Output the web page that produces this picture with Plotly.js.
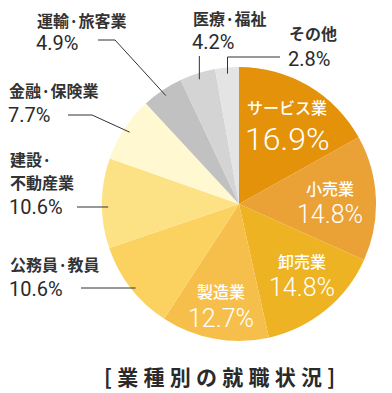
<!DOCTYPE html>
<html><head><meta charset="utf-8">
<script src="https://cdn.plot.ly/plotly-3.0.1.min.js"></script>
<style>html,body{margin:0;padding:0;background:#fff;}#chart{width:392px;height:393px;}</style>
</head><body><div id="chart"></div>
<script>
// ---- data ----
const categories = ['サービス業','小売業','卸売業','製造業','公務員·教員','建設·不動産業','金融·保険業','運輸·旅客業','医療·福祉','その他'];
const shares = [16.9, 14.8, 14.8, 12.7, 10.6, 10.6, 7.7, 4.9, 4.2, 2.8];
const displayNames = ['サービス業','小売業','卸売業','製造業','公務員·教員','建設·|不動産業','金融·保険業','運輸·旅客業','医療·福祉','その他'];
const sliceColors = ['#E3920A','#EAA135','#EEB322','#F6BF4B','#FBD15F','#FDE285','#FFF8D0','#C0C1C0','#D4D4D4','#E4E4E4'];
const chartTitle = '[業種別の就職状況]';

// ---- layout helpers (pixel -> paper) ----
const W = 392, H = 393;
const CX = 239, CY = 204, R = 137;
const px = x => x / W;
const py = y => 1 - y / H;

// inside labels: [index, x, nameY, pctY, pctSize]
const insideLabels = [
  [0, 287, 107, 139, 32],
  [1, 330, 188, 214, 25],
  [2, 302, 261, 287, 25],
  [3, 221, 291, 318, 25]
];
// outside labels: [index, x, nameY, pctY, lineStart, elbow]
const outsideLabels = [
  [7, 36, 20, 43, [98, 40], [115, 40]],
  [8, 192, 18, 42, null, null],
  [9, 288, 33, 59, [280, 57], null],
  [6, 8, 90, 115, [68, 115], [92, 115]],
  [5, 9, 159, 207, [77, 207], null],
  [4, 9, 264, 289, [81, 288], null]
];
const lineGap = 23;

// mid angle of each slice (clockwise from 12 o'clock)
const total = shares.reduce((a, b) => a + b, 0);
const mids = [];
let acc = 0;
shares.forEach(v => { mids.push((acc + v / 2) / total * 2 * Math.PI); acc += v; });
const edgePoint = (i, f) => [CX + Math.sin(mids[i]) * R * f, CY - Math.cos(mids[i]) * R * f];

const annotations = [];
const shapes = [];
const cjk = '"Noto Sans CJK JP", "Noto Sans", sans-serif';
const num = 'Roboto, "DejaVu Sans", sans-serif';

insideLabels.forEach(([i, x, ny, pyy, sz]) => {
  annotations.push({xref:'paper', yref:'paper', x:px(x), y:py(ny), xanchor:'center', yanchor:'middle', borderpad:0,
    text: displayNames[i], showarrow:false, font:{family:cjk, size:16, color:'#fff', weight:500}});
  annotations.push({xref:'paper', yref:'paper', x:px(x), y:py(pyy), xanchor:'center', yanchor:'middle', borderpad:0,
    text: shares[i].toFixed(1) + '%', showarrow:false, font:{family:num, size:sz, color:'#fff', weight:300}});
});

outsideLabels.forEach(([i, x, ny, pyy, ls, elbow]) => {
  displayNames[i].split('|').forEach((part, k) => {
    annotations.push({xref:'paper', yref:'paper', x:px(x), y:py(ny + k * lineGap), xanchor:'left', yanchor:'middle', align:'left', borderpad:0,
      text: part, showarrow:false, font:{family:cjk, size:16, color:'#333', weight:'bold'}});
  });
  annotations.push({xref:'paper', yref:'paper', x:px(x - 1), y:py(pyy), xanchor:'left', yanchor:'middle', borderpad:0,
    text: shares[i].toFixed(1) + '%', showarrow:false, font:{family:num, size:20, color:'#2a2a2a', weight:'normal'}});
  const end = edgePoint(i, 0.955);
  let pts;
  if (i === 8) {
    pts = [[end[0], 56], end];
  } else if (i === 9) {
    pts = [ls, [end[0], ls[1]], end];
  } else if (elbow) {
    pts = [ls, elbow, end];
  } else {
    pts = [ls, [end[0], ls[1]]];
  }
  let path = 'M ' + pts.map(p => px(p[0]) + ',' + py(p[1])).join(' L ');
  shapes.push({type:'path', xref:'paper', yref:'paper', path: path, line:{color:'#333', width:1}});
});

annotations.push({xref:'paper', yref:'paper', x:px(220), y:py(376), xanchor:'center', yanchor:'middle',
  text: chartTitle.split('').join('\u2005'), showarrow:false, font:{family:cjk, size:21, color:'#2a2a2a', weight:'bold'}});

const trace = {
  type:'pie', labels: categories, values: shares, sort:false, direction:'clockwise', rotation:0,
  marker:{colors: sliceColors, line:{width:0}}, textinfo:'none', hoverinfo:'none', showlegend:false,
  domain:{x:[px(CX - R), px(CX + R)], y:[py(CY + R), py(CY - R)]}
};

Plotly.newPlot('chart', [trace], {
  width: W, height: H, margin:{l:0, r:0, t:0, b:0}, paper_bgcolor:'#fff', plot_bgcolor:'#fff',
  annotations, shapes, showlegend:false
}, {staticPlot:true});
</script></body></html>
